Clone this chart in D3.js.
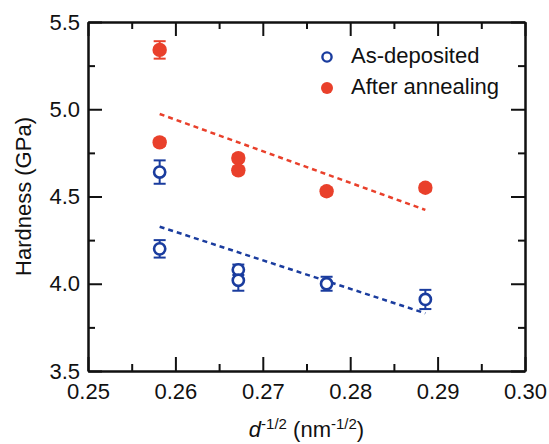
<!DOCTYPE html>
<html>
<head>
<meta charset="utf-8">
<script src="https://cdn.jsdelivr.net/npm/d3@7"></script>
<style>
body { margin:0; background:#fff; }
text { font-family: Arial, "Liberation Sans", Helvetica, sans-serif; fill:#111; }
</style>
</head>
<body>
<div id="plot"></div>
<script>
// data
var xTicks = [0.25, 0.26, 0.27, 0.28, 0.29, 0.30];
var yTicks = [3.5, 4.0, 4.5, 5.0, 5.5];

// as-deposited (open blue circles)
var depX   = [0.2582, 0.2582, 0.2672, 0.2672, 0.2773, 0.2886];
var depY   = [4.20, 4.64, 4.08, 4.02, 4.00, 3.91];
var depErr = [0.05, 0.067, 0.03, 0.06, 0.04, 0.055];

// after annealing (filled red circles)
var annX   = [0.2582, 0.2582, 0.2672, 0.2672, 0.2773, 0.2886];
var annY   = [5.34, 4.81, 4.72, 4.65, 4.53, 4.55];
var annErr = [0.05, 0.02, 0.02, 0.02, 0.02, 0.02];

// linear fit end points
var fitX    = [0.2582, 0.2886];
var depFitY = [4.327, 3.831];
var annFitY = [4.973, 4.423];

var legendNames = ['As-deposited', 'After annealing'];

var blue = '#1a3c9e', red = '#e9402b';
var fs = '22px';

var margin = {t:22, r:24, b:73, l:88};
var W = 549, H = 444;
var width = W - margin.l - margin.r,
	height = H - margin.t - margin.b;

var svg = d3.select('#plot')
	.append('svg')
	.attr('width', W)
	.attr('height', H);

var plot = svg.append('g')
	.attr('transform', 'translate(' + margin.l + ',' + margin.t + ')');

var x = d3.scaleLinear().domain([0.25, 0.30]).range([0, width]);
var y = d3.scaleLinear().domain([3.5, 5.5]).range([height, 0]);

var xMinor = xTicks.slice(0, -1).map(function(d){ return d + 0.005; });
var yMinor = yTicks.slice(0, -1).map(function(d){ return d + 0.25; });

function styleAxis(g) {
	g.selectAll('path').attr('stroke', '#111').attr('stroke-width', 2);
	g.selectAll('line').attr('stroke', '#111').attr('stroke-width', 2);
	g.selectAll('text').style('font-size', fs).attr('fill', '#111');
}

// bottom
plot.append('g').attr('transform', 'translate(0,' + height + ')')
	.call(d3.axisBottom(x).tickValues(xTicks).tickFormat(d3.format('.2f')).tickSizeInner(-14).tickSizeOuter(0).tickPadding(12))
	.call(styleAxis);
plot.append('g').attr('transform', 'translate(0,' + height + ')')
	.call(d3.axisBottom(x).tickValues(xMinor).tickFormat('').tickSizeInner(-7).tickSizeOuter(0))
	.call(styleAxis);
// top
plot.append('g')
	.call(d3.axisTop(x).tickValues(xTicks).tickFormat('').tickSizeInner(-14).tickSizeOuter(0))
	.call(styleAxis);
plot.append('g')
	.call(d3.axisTop(x).tickValues(xMinor).tickFormat('').tickSizeInner(-7).tickSizeOuter(0))
	.call(styleAxis);
// left
plot.append('g')
	.call(d3.axisLeft(y).tickValues(yTicks).tickFormat(d3.format('.1f')).tickSizeInner(-14).tickSizeOuter(0).tickPadding(8))
	.call(styleAxis);
plot.append('g')
	.call(d3.axisLeft(y).tickValues(yMinor).tickFormat('').tickSizeInner(-7).tickSizeOuter(0))
	.call(styleAxis);
// right
plot.append('g').attr('transform', 'translate(' + width + ',0)')
	.call(d3.axisRight(y).tickValues(yTicks).tickFormat('').tickSizeInner(-14).tickSizeOuter(0))
	.call(styleAxis);
plot.append('g').attr('transform', 'translate(' + width + ',0)')
	.call(d3.axisRight(y).tickValues(yMinor).tickFormat('').tickSizeInner(-7).tickSizeOuter(0))
	.call(styleAxis);

// fit lines
var line = d3.line().x(function(d){ return x(d[0]); }).y(function(d){ return y(d[1]); });
plot.append('path')
	.attr('d', line(d3.zip(fitX, annFitY)))
	.attr('fill', 'none').attr('stroke', red).attr('stroke-width', 2.5).attr('stroke-dasharray', '5,4');
plot.append('path')
	.attr('d', line(d3.zip(fitX, depFitY)))
	.attr('fill', 'none').attr('stroke', blue).attr('stroke-width', 2.5).attr('stroke-dasharray', '5,4');

function drawSeries(xs, ys, es, color, filled) {
	var pts = d3.zip(xs, ys, es);
	var g = plot.append('g');
	var bars = g.selectAll('g.eb').data(pts).enter().append('g').attr('class', 'eb');
	bars.append('line')
		.attr('x1', function(d){ return x(d[0]); }).attr('x2', function(d){ return x(d[0]); })
		.attr('y1', function(d){ return y(d[1] + d[2]); }).attr('y2', function(d){ return y(d[1] - d[2]); })
		.attr('stroke', color).attr('stroke-width', 2);
	[1, -1].forEach(function(s){
		bars.append('line')
			.attr('x1', function(d){ return x(d[0]) - 6; }).attr('x2', function(d){ return x(d[0]) + 6; })
			.attr('y1', function(d){ return y(d[1] + s * d[2]); }).attr('y2', function(d){ return y(d[1] + s * d[2]); })
			.attr('stroke', color).attr('stroke-width', 2);
	});
	g.selectAll('circle').data(pts).enter().append('circle')
		.attr('cx', function(d){ return x(d[0]); })
		.attr('cy', function(d){ return y(d[1]); })
		.attr('r', filled ? 7.2 : 5.6)
		.attr('fill', filled ? color : '#fff')
		.attr('stroke', filled ? 'none' : color)
		.attr('stroke-width', 2.6);
}
drawSeries(depX, depY, depErr, blue, false);
drawSeries(annX, annY, annErr, red, true);

// legend
var legend = svg.append('g');
legendNames.forEach(function(name, i){
	var ly = 57 + i * 31;
	legend.append('circle')
		.attr('cx', 327).attr('cy', ly)
		.attr('r', i == 0 ? 4.6 : 6)
		.attr('fill', i == 0 ? '#fff' : red)
		.attr('stroke', i == 0 ? blue : 'none')
		.attr('stroke-width', 2.4);
	legend.append('text')
		.attr('x', 351).attr('y', ly + 6)
		.style('font-size', fs)
		.text(name);
});

// axis titles
svg.append('text')
	.attr('transform', 'translate(31,' + (margin.t + height / 2) + ') rotate(-90)')
	.attr('text-anchor', 'middle')
	.style('font-size', fs)
	.text('Hardness (GPa)');

var xt = svg.append('text')
	.attr('x', margin.l + width / 2).attr('y', 437)
	.attr('text-anchor', 'middle')
	.style('font-size', fs);
xt.append('tspan').style('font-style', 'italic').text('d');
xt.append('tspan').attr('dy', -8).style('font-size', '15px').text('-1/2');
xt.append('tspan').attr('dy', 8).text(' (nm');
xt.append('tspan').attr('dy', -8).style('font-size', '15px').text('-1/2');
xt.append('tspan').attr('dy', 8).text(')');
</script>
</body>
</html>
